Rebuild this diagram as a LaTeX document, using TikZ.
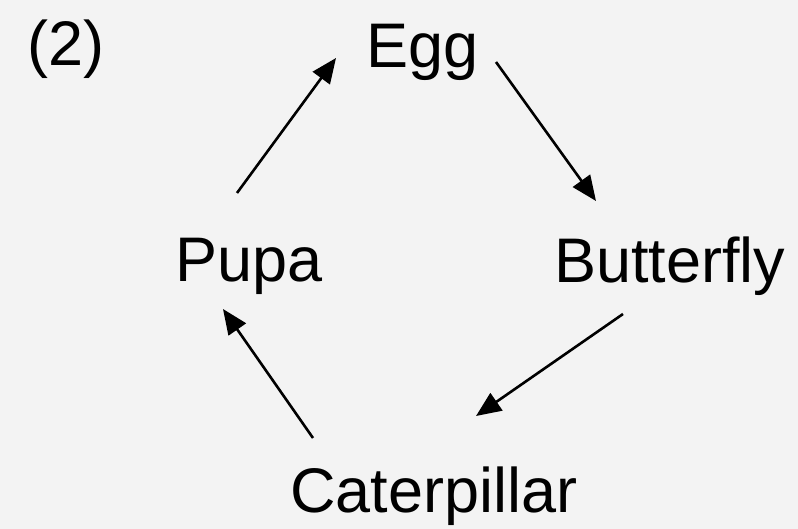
\documentclass[tikz,border=0pt]{standalone}
\usepackage{fontspec}
\setmainfont{Liberation Sans}
\usetikzlibrary{arrows.meta}
\definecolor{bg}{HTML}{F3F3F3}
\begin{document}
\begin{tikzpicture}[x=1pt,y=-1pt,
  lbl/.style={anchor=base west,inner sep=0pt,font=\fontsize{63}{70}\selectfont},
  conn/.style={line width=2.6pt,-{Triangle[length=25pt,width=21pt]}}]
\fill[bg] (0,0) rectangle (798,529);
\useasboundingbox (0,0) rectangle (798,529);
\node[lbl] (num) at (27,66) {(2)};
\node[lbl] (egg) at (366,68) {Egg};
\node[lbl] (pupa) at (175,282) {Pupa};
\node[lbl] (bfly) at (554,283) {Butterfly};
\node[lbl] (cat) at (290,512) {Caterpillar};
\coordinate (p1) at (237,193);
\coordinate (p2) at (336,58);
\coordinate (e1) at (496,62);
\coordinate (e2) at (596,201);
\coordinate (b1) at (623,314);
\coordinate (b2) at (476,416);
\coordinate (c1) at (313,438);
\coordinate (c2) at (223,309);
\draw[conn] (p1) -- (p2);
\draw[conn] (e1) -- (e2);
\draw[conn] (b1) -- (b2);
\draw[conn] (c1) -- (c2);
\end{tikzpicture}
\end{document}
